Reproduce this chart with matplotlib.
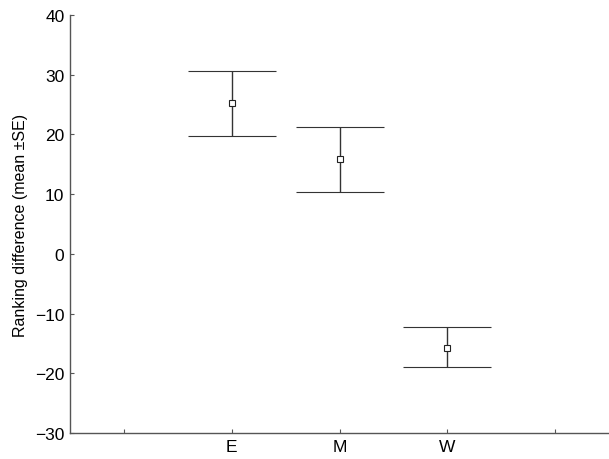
import numpy as np
import matplotlib.pyplot as plt

plt.rcParams['font.family'] = ['Liberation Sans', 'DejaVu Sans']

# data
groups = ["E", "M", "W"]
means = [25.2, 15.9, -15.7]
upper = [30.6, 21.2, -12.3]
lower = [19.7, 10.4, -18.9]
tick_labels = ["", "E", "M", "W", ""]

fig = plt.figure(figsize=(6.09, 4.60), dpi=100)
ax = fig.add_axes([0.115, 0.0565, 0.885, 0.9087])

x = np.arange(2, 2 + len(groups))
means = np.array(means)
err = [means - np.array(lower), np.array(upper) - means]
ax.errorbar(x, means, yerr=err, fmt='s', color='#333333', ecolor='#333333',
            elinewidth=1.0, capsize=31.5, capthick=1.0,
            markersize=4, markerfacecolor='white', markeredgecolor='#222222',
            markeredgewidth=0.8)

ax.set_xlim(0.5, 5.5)
ax.set_ylim(-30, 40)
ax.set_xticks(np.arange(1, 6))
ax.set_xticklabels(tick_labels)
ax.set_yticks(np.arange(-30, 41, 10))
ax.set_yticklabels(["\u221230", "\u221220", "\u221210", "0", "10", "20", "30", "40"])
ax.set_ylabel("Ranking difference (mean \u00b1SE)", fontsize=11.5, labelpad=5)

for s in ["top", "right"]:
    ax.spines[s].set_visible(False)
for s in ["left", "bottom"]:
    ax.spines[s].set_color('#555555')
    ax.spines[s].set_linewidth(1.0)
ax.tick_params(direction='in', length=3, width=0.8, color='#555555',
               labelsize=12.5, pad=4)

fig.savefig("out.png", dpi=100)
